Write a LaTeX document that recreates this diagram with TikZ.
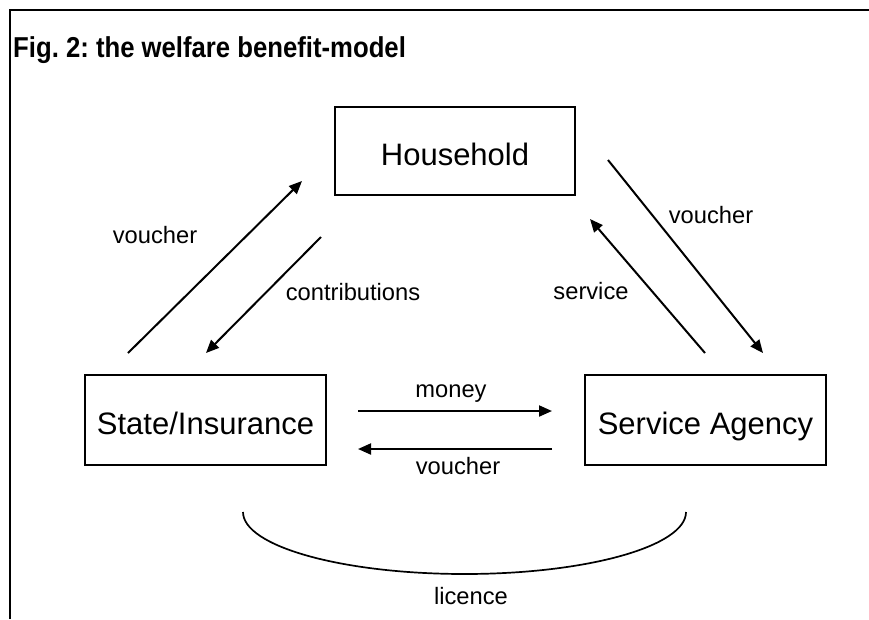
\documentclass[tikz,border=0pt]{standalone}
\usepackage{fontspec}
\setmainfont{Liberation Sans}
\usetikzlibrary{arrows.meta}
\begin{document}
\frenchspacing
\begin{tikzpicture}[x=1pt,y=-1pt,
  box/.style={draw, line width=2pt, minimum width=240pt, minimum height=89pt, inner sep=0pt, text height=28pt, text depth=0pt, font=\fontsize{31}{37}\selectfont},
  lbl/.style={anchor=base, inner sep=0pt, font=\fontsize{23.7}{28}\selectfont},
  flow/.style={line width=2pt, -{Triangle[length=13pt,width=11pt]}},
  framestyle/.style={line width=2.2pt, line join=miter},
  arcstyle/.style={line width=1.7pt}]
\useasboundingbox (0,0) rectangle (869,619);
\draw[framestyle] (10,619) -- (10,10) -- (869,10);
\node[anchor=base west, inner sep=0pt, font=\bfseries\fontsize{25.7}{30}\selectfont] (title) at (13,57) {\scalebox{1}[1.12]{Fig. 2: the welfare benefit-model}};

\node[box, minimum height=88pt] (hh) at (455,151) {Household};
\node[box, minimum width=241pt, minimum height=90pt] (state) at (205.5,420) {State/Insurance};
\node[box, minimum width=241pt, minimum height=90pt] (agency) at (705.5,420) {Service Agency};

% arrow end points
\coordinate (v1s) at (128,353); \coordinate (v1e) at (302,181);
\coordinate (c1s) at (321,237); \coordinate (c1e) at (206,353);
\coordinate (v2s) at (608,160); \coordinate (v2e) at (763,353);
\coordinate (s1s) at (705,353); \coordinate (s1e) at (590,219);
\coordinate (m1s) at (358,411); \coordinate (m1e) at (552,411);
\coordinate (v3s) at (552,449); \coordinate (v3e) at (358,449);

\draw[flow] (v1s) -- (v1e);
\draw[flow] (c1s) -- (c1e);
\draw[flow] (v2s) -- (v2e);
\draw[flow] (s1s) -- (s1e);
\draw[flow] (m1s) -- (m1e);
\draw[flow] (v3s) -- (v3e);

\node[lbl] (lv1) at (155,243) {voucher};
\node[lbl] (lc1) at (353,300) {contributions};
\node[lbl] (lv2) at (711,223) {voucher};
\node[lbl] (ls1) at (591,299) {service};
\node[lbl] (lm1) at (451,397) {money};
\node[lbl] (lv3) at (458,474) {voucher};
\node[lbl] (llic) at (471,604) {licence};

\coordinate (lA) at (243,512);
\draw[arcstyle] (lA) arc[start angle=180, end angle=0, x radius=221.5, y radius=62];
\end{tikzpicture}
\end{document}
